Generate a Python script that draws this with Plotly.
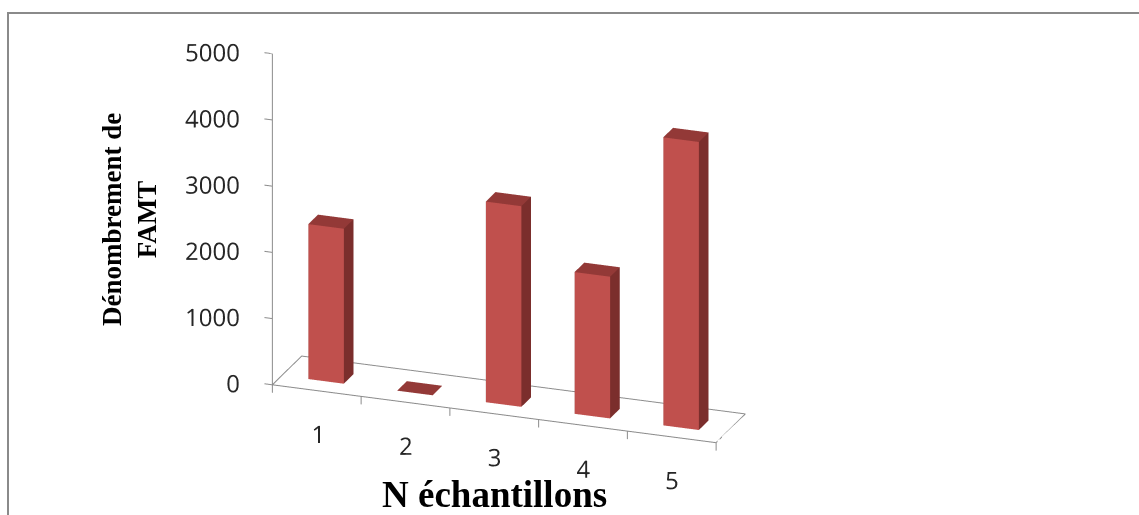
import math
import plotly.graph_objects as go

# Counts per sample
categories = ["1", "2", "3", "4", "5"]
counts = [2340, 0, 3030, 2140, 4350]
value_ticks = [0, 1000, 2000, 3000, 4000, 5000]
value_tick_text = ["0", "1000", "2000", "3000", "4000", "5000"]

# Styling
FRONT = "#C0504D"
SIDE = "#7B2E2C"
TOP = "#933937"
AXIS = "#8C8C8C"
TEXT = "#262626"

BAR_W = 0.4            # bar width, in category units
BAR_Y0, BAR_Y1 = 0.32, 0.65   # bar depth span on the floor (floor depth = 1)
Z_TOP = 5000
Z_BOTTOM = -750        # room under the floor for tick marks and labels
X_LO, X_HI = 0.5, len(categories) + 0.5
X_MIN = 0.3            # room left of the value axis for its labels

# ---- bars as one mesh -------------------------------------------------------
vx, vy, vz, fi, fj, fk, fcol = [], [], [], [], [], [], []
for n, v in enumerate(counts):
    cx = n + 1
    x0, x1 = cx - BAR_W / 2, cx + BAR_W / 2
    b = len(vx)
    for (px, py, pz) in [(x0, BAR_Y0, 0), (x1, BAR_Y0, 0), (x1, BAR_Y1, 0), (x0, BAR_Y1, 0),
                         (x0, BAR_Y0, v), (x1, BAR_Y0, v), (x1, BAR_Y1, v), (x0, BAR_Y1, v)]:
        vx.append(px); vy.append(py); vz.append(pz)
    faces = [((0, 1, 5), FRONT), ((0, 5, 4), FRONT),
             ((1, 2, 6), SIDE), ((1, 6, 5), SIDE),
             ((0, 3, 7), SIDE), ((0, 7, 4), SIDE),
             ((3, 2, 6), SIDE), ((3, 6, 7), SIDE),
             ((0, 1, 2), TOP), ((0, 2, 3), TOP),
             ((4, 5, 6), TOP), ((4, 6, 7), TOP)]
    for (a, c, d), col in faces:
        fi.append(b + a); fj.append(b + c); fk.append(b + d); fcol.append(col)

bars = go.Mesh3d(
    x=vx, y=vy, z=vz, i=fi, j=fj, k=fk, facecolor=fcol, flatshading=True,
    lighting=dict(ambient=1.0, diffuse=0.0, specular=0.0, roughness=1.0, fresnel=0.0),
    hoverinfo="skip", showscale=False,
)

# ---- floor outline, value axis and tick marks ---------------------------------
lx, ly, lz = [], [], []

def seg(pts):
    for p in pts:
        lx.append(p[0]); ly.append(p[1]); lz.append(p[2])
    lx.append(None); ly.append(None); lz.append(None)

seg([(X_LO, 0, 0), (X_HI, 0, 0), (X_HI, 1, 0), (X_LO, 1, 0), (X_LO, 0, 0)])
seg([(X_LO, 0, 0), (X_LO, 0, value_ticks[-1])])
for t in value_ticks:
    seg([(X_LO, 0, t), (X_LO - 0.09, 0, t)])
for k in range(len(categories) + 1):
    bx = X_LO + k
    seg([(bx, 0, 0), (bx, 0, -120)])

lines = go.Scatter3d(x=lx, y=ly, z=lz, mode="lines", connectgaps=False,
                     line=dict(color=AXIS, width=2), hoverinfo="skip")

value_labels = go.Scatter3d(
    x=[X_LO - 0.11] * len(value_ticks), y=[0] * len(value_ticks), z=value_ticks,
    mode="text", text=value_tick_text, textposition="middle left",
    textfont=dict(family="Open Sans", size=24, color=TEXT), hoverinfo="skip",
)
cat_labels = go.Scatter3d(
    x=[n + 1 for n in range(len(categories))], y=[0] * len(categories),
    z=[-660] * len(categories), mode="text", text=categories,
    textposition="middle center",
    textfont=dict(family="Open Sans", size=24, color=TEXT), hoverinfo="skip",
)

fig = go.Figure([bars, lines, value_labels, cat_labels])

# px-per-unit proportions of the box; ZOOM sets the on-screen size
PX_X, PX_Y, PX_Z = 470 / 5, 85, 353 / 5000
ZOOM = 1.907
ax_len = (X_HI - X_MIN) * PX_X
aspect = dict(x=ZOOM, y=ZOOM * PX_Y / ax_len, z=ZOOM * (Z_TOP - Z_BOTTOM) * PX_Z / ax_len)

theta, phi, dist = math.radians(20), math.radians(21), 4.0
eye = dict(x=dist * math.cos(phi) * math.sin(theta),
           y=-dist * math.cos(phi) * math.cos(theta),
           z=dist * math.sin(phi))

hidden = dict(visible=False, showspikes=False)
fig.update_layout(
    width=1139, height=515, margin=dict(l=0, r=0, t=0, b=0),
    paper_bgcolor="white", showlegend=False,
    scene=dict(
        domain=dict(x=[0, 0.878], y=[0, 1]),
        xaxis=dict(range=[X_MIN, X_HI], **hidden),
        yaxis=dict(range=[0, 1], **hidden),
        zaxis=dict(range=[Z_BOTTOM, Z_TOP], **hidden),
        aspectmode="manual", aspectratio=aspect,
        camera=dict(eye=eye, center=dict(x=0, y=0, z=0), up=dict(x=0, y=0, z=1),
                    projection=dict(type="orthographic")),
        bgcolor="rgba(0,0,0,0)",
    ),
    shapes=[dict(type="rect", xref="paper", yref="paper",
                 x0=8 / 1139, x1=1.05, y0=-0.05, y1=1 - 13 / 515,
                 line=dict(color="#8A8A8A", width=2), layer="below")],
    annotations=[
        dict(text="<b>Dénombrement de<br>FAMT</b>", xref="paper", yref="paper",
             x=129 / 1139, y=1 - 220 / 515, xanchor="center", yanchor="middle",
             textangle=-90, showarrow=False,
             font=dict(family="Liberation Serif", size=27, color="black")),
        dict(text="<b>N échantillons</b>", xref="paper", yref="paper",
             x=494 / 1139, y=1 - 494 / 515, xanchor="center", yanchor="middle",
             showarrow=False,
             font=dict(family="Liberation Serif", size=37, color="black")),
    ],
)

fig.write_html("out.html")
